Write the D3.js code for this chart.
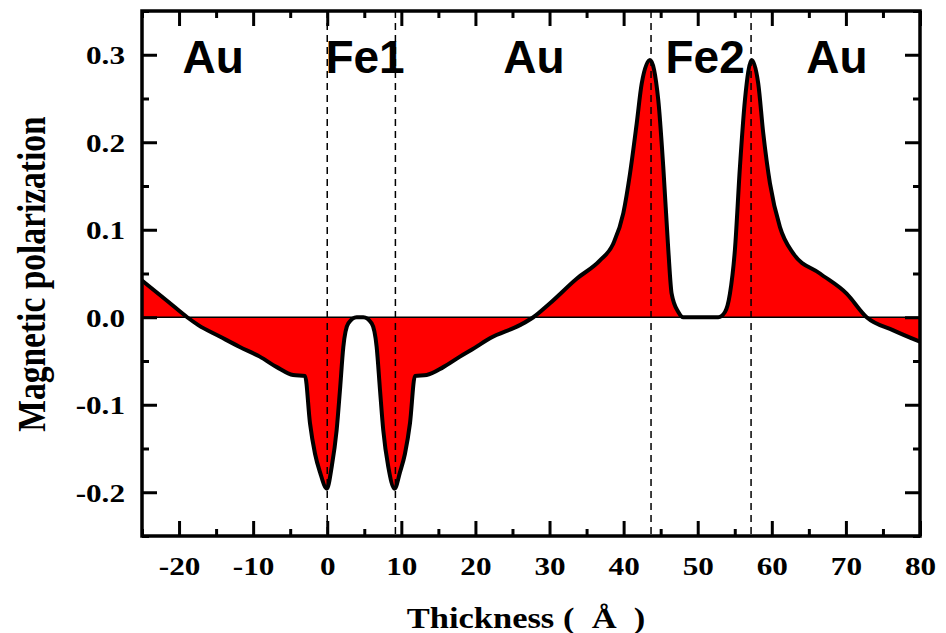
<!DOCTYPE html>
<html>
<head>
<meta charset="utf-8">
<script src="https://cdn.jsdelivr.net/npm/d3@7"></script>
<style>
  html, body { margin: 0; padding: 0; background: #fff; }
  svg { display: block; }
</style>
</head>
<body>
<svg id="chart" width="946" height="633"></svg>
<script>
// Magnetic polarization profile through the Au / Fe1 / Au / Fe2 / Au stack
const thickness = [
  -25, -21.5, -18.9, -17.4, -14.5, -11.8, -9.1, -6.8, -4.6, -3.0,
  -2.33, -1.65, -0.98, -0.05, 0.6, 1.27, 1.72, 2.17, 2.84, 3.97,
  4.87, 6.0, 6.67, 7.12, 7.56, 8.24, 9.1, 9.82, 10.49, 11.17,
  11.84, 13.42, 15.66, 17.91, 19.9, 21.96, 26.0, 27.81, 30.06, 33.66,
  36.81, 38.6, 39.96, 40.86, 41.76, 42.44, 43.56, 44.68, 45.35, 46.03,
  46.48, 47.38, 48.05, 52.77, 53.68, 54.35, 55.02, 55.7, 56.37, 57.28,
  58.17, 58.85, 59.75, 61.1, 62.89, 66.5, 70.1, 72.8, 76.4, 80
];
const polarization = [
  0.042, 0.018, 0.0, -0.009, -0.022, -0.034, -0.045, -0.057, -0.066, -0.067,
  -0.121, -0.156, -0.177, -0.196, -0.171, -0.129, -0.083, -0.034, -0.007, 0.0,
  0.0, -0.007, -0.034, -0.083, -0.129, -0.171, -0.196, -0.177, -0.156, -0.121,
  -0.067, -0.066, -0.057, -0.045, -0.035, -0.024, -0.009, 0.0, 0.016, 0.044,
  0.065, 0.084, 0.119, 0.164, 0.221, 0.267, 0.294, 0.248, 0.172, 0.077,
  0.027, 0.006, 0.0, 0.0, 0.006, 0.027, 0.077, 0.172, 0.248, 0.294,
  0.267, 0.210, 0.153, 0.103, 0.073, 0.050, 0.027, 0.0, -0.015, -0.028
];

// Layer interfaces (dashed markers) and layer names
const interfaces = [0, 9.2, 43.7, 57.2];
const layerNames = ["Au", "Fe1", "Au", "Fe2", "Au"];
const layerLabelX = [-15.4, 5.1, 27.9, 51.0, 68.8];
const layerLabelY = 0.279;

// Axis ticks
const xTicks = [-20, -10, 0, 10, 20, 30, 40, 50, 60, 70, 80];
const xTickLabels = ["-20", "-10", "0", "10", "20", "30", "40", "50", "60", "70", "80"];
const xMinor = [-25, -15, -5, 5, 15, 25, 35, 45, 55, 65, 75];
const yTicks = [-0.2, -0.1, 0.0, 0.1, 0.2, 0.3];
const yTickLabels = ["-0.2", "-0.1", "0.0", "0.1", "0.2", "0.3"];
const yMinor = [-0.25, -0.15, -0.05, 0.05, 0.15, 0.25, 0.35];

const xTitle = "Thickness (  \u00C5  )";
const yTitle = "Magnetic polarization";

const W = 946, H = 633;
const margin = { left: 142, top: 11, right: 26, bottom: 97 };
const iw = W - margin.left - margin.right;
const ih = H - margin.top - margin.bottom;

const svg = d3.select("#chart");
const g = svg.append("g").attr("transform", `translate(${margin.left},${margin.top})`);

const x = d3.scaleLinear().domain([-25, 80]).range([0, iw]);
const y = d3.scaleLinear().domain([-0.25, 0.35]).range([ih, 0]);

const data = thickness.map((t, i) => ({ t, p: polarization[i] }));

g.append("defs").append("clipPath").attr("id", "plotClip")
  .append("rect").attr("x", 0).attr("y", 0).attr("width", iw).attr("height", ih);

const plot = g.append("g").attr("clip-path", "url(#plotClip)");

// red filled area between curve and zero
const area = d3.area()
  .x(d => x(d.t))
  .y0(y(0))
  .y1(d => y(d.p))
  .curve(d3.curveMonotoneX);

plot.append("path")
  .datum(data)
  .attr("d", area)
  .attr("fill", "#ff0000");

// zero reference line
plot.append("line")
  .attr("x1", 0).attr("x2", iw)
  .attr("y1", y(0)).attr("y2", y(0))
  .attr("stroke", "#000").attr("stroke-width", 1.5);

// interface markers
plot.selectAll("line.iface")
  .data(interfaces)
  .join("line")
  .attr("class", "iface")
  .attr("x1", d => x(d)).attr("x2", d => x(d))
  .attr("y1", 0).attr("y2", ih)
  .attr("stroke", "#000")
  .attr("stroke-width", 1.5)
  .attr("stroke-dasharray", "7,5");

// profile curve
const line = d3.line()
  .x(d => x(d.t))
  .y(d => y(d.p))
  .curve(d3.curveMonotoneX);

plot.append("path")
  .datum(data)
  .attr("d", line)
  .attr("fill", "none")
  .attr("stroke", "#000")
  .attr("stroke-width", 4)
  .attr("stroke-linejoin", "round");

// axes: inward ticks on all four sides
const major = 15, minor = 7;
const tickFont = "'Liberation Serif', 'Times New Roman', serif";
const stretch = 1.2;

function styleTicks(sel) {
  sel.select(".domain").remove();
  sel.selectAll(".tick line").attr("stroke", "#000").attr("stroke-width", 3);
}

const xAxis = g.append("g").attr("transform", `translate(0,${ih})`)
  .call(d3.axisBottom(x).tickValues(xTicks).tickSize(-major)
    .tickFormat((d, i) => xTickLabels[i]));
styleTicks(xAxis);
xAxis.selectAll(".tick text")
  .attr("y", 39).attr("dy", 0)
  .attr("transform", `scale(${stretch},1)`)
  .style("font-family", tickFont).style("font-weight", "bold")
  .style("font-size", "26px").attr("fill", "#000");

styleTicks(g.append("g").attr("transform", `translate(0,${ih})`)
  .call(d3.axisBottom(x).tickValues(xMinor).tickSize(-minor).tickFormat("")));
styleTicks(g.append("g")
  .call(d3.axisTop(x).tickValues(xTicks).tickSize(-major).tickFormat("")));
styleTicks(g.append("g")
  .call(d3.axisTop(x).tickValues(xMinor).tickSize(-minor).tickFormat("")));

const yAxis = g.append("g")
  .call(d3.axisLeft(y).tickValues(yTicks).tickSize(-major)
    .tickFormat((d, i) => yTickLabels[i]));
styleTicks(yAxis);
yAxis.selectAll(".tick text")
  .attr("x", -17 / stretch).attr("dy", "0.35em")
  .attr("text-anchor", "end")
  .attr("transform", `scale(${stretch},1)`)
  .style("font-family", tickFont).style("font-weight", "bold")
  .style("font-size", "26px").attr("fill", "#000");

styleTicks(g.append("g")
  .call(d3.axisLeft(y).tickValues(yMinor).tickSize(-minor).tickFormat("")));
styleTicks(g.append("g").attr("transform", `translate(${iw},0)`)
  .call(d3.axisRight(y).tickValues(yTicks).tickSize(-major).tickFormat("")));
styleTicks(g.append("g").attr("transform", `translate(${iw},0)`)
  .call(d3.axisRight(y).tickValues(yMinor).tickSize(-minor).tickFormat("")));

// frame
g.append("rect")
  .attr("x", 0).attr("y", 0).attr("width", iw).attr("height", ih)
  .attr("fill", "none").attr("stroke", "#000").attr("stroke-width", 3.5);

// layer names
g.selectAll("text.layer")
  .data(layerNames)
  .join("text")
  .attr("class", "layer")
  .attr("x", (d, i) => x(layerLabelX[i]))
  .attr("y", y(layerLabelY))
  .attr("text-anchor", "middle")
  .style("font-family", "'Liberation Sans', Arial, sans-serif")
  .style("font-weight", "bold")
  .style("font-size", "46px")
  .attr("fill", "#000")
  .text(d => d);

// axis titles
svg.append("text")
  .attr("transform", `translate(526,628) scale(1.15,1)`)
  .attr("text-anchor", "middle")
  .style("font-family", tickFont).style("font-weight", "bold")
  .style("font-size", "30px").attr("fill", "#000")
  .style("white-space", "pre")
  .text(xTitle);

svg.append("text")
  .attr("transform", `translate(45,274) scale(${stretch},1) rotate(-90)`)
  .attr("text-anchor", "middle")
  .style("font-family", tickFont).style("font-weight", "bold")
  .style("font-size", "33.5px").attr("fill", "#000")
  .text(yTitle);
</script>
</body>
</html>
